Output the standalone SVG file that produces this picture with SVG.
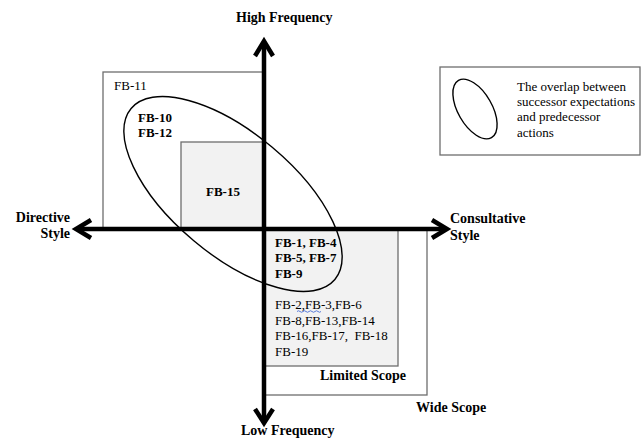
<svg xmlns="http://www.w3.org/2000/svg" width="643" height="439" viewBox="0 0 643 439">
<style>
text{font-family:'Liberation Serif','DejaVu Serif',serif;fill:#000}
.b{font-weight:bold}
.ax{font-weight:bold;font-size:14px}
.lbl{font-size:13px}
.box{fill:none;stroke:#6e6e6e;stroke-width:1.3}
.shade{fill:#f2f2f2;stroke:#6e6e6e;stroke-width:1.3}
.axis{stroke:#000;stroke-width:4.5;fill:none}
.head{stroke:#000;stroke-width:4.5;fill:none;stroke-linejoin:miter;stroke-linecap:butt}
.ell{fill:none;stroke:#000;stroke-width:1.4}
</style>
<rect width="643" height="439" fill="#fff"/>

<g id="wide-scope">
<rect class="box" x="264" y="229" width="163" height="166"/>
<text class="ax" x="416" y="412" font-family="Liberation Serif, serif">Wide Scope</text>
</g>
<g id="limited-scope">
<rect class="shade" x="264" y="229" width="134" height="137"/>
<text class="ax" x="320" y="380" font-family="Liberation Serif, serif">Limited Scope</text>
</g>
<g id="fb-11">
<rect class="box" x="103" y="72" width="161" height="157"/>
<text class="lbl" x="114" y="90">FB-11</text>
</g>
<g id="fb-15">
<rect class="shade" x="181" y="142" width="83" height="87"/>
<text class="lbl b" x="206" y="196">FB-15</text>
</g>
<g id="overlap">
<ellipse class="ell" cx="233" cy="194" rx="133" ry="61" transform="rotate(40 233 194)"/>
<text class="lbl b" x="138" y="122">FB-10</text>
<text class="lbl b" x="138" y="137">FB-12</text>
</g>

<g id="connectors">
<line class="axis" x1="264" y1="42" x2="264" y2="421"/>
<polyline class="head" points="255,56 264,41 273,56"/>
<polyline class="head" points="255,409 264,423 273,409"/>
<line class="axis" x1="77" y1="229" x2="445" y2="229"/>
<polyline class="head" points="91,220 76,229 91,238"/>
<polyline class="head" points="432,220 447,229 432,238"/>
</g>

<g id="quadrant-low-consultative">
<text class="lbl b" x="275" y="247">FB-1, FB-4</text>
<text class="lbl b" x="275" y="262">FB-5, FB-7</text>
<text class="lbl b" x="275" y="278">FB-9</text>
<text class="lbl" x="275" y="309">FB-2,FB-3,FB-6</text>
<path d="M297,311.5 q1.5,-1.5 3,0 t3,0 t3,0 t3,0 t3,0 t3,0 t3,0 t3,0" fill="none" stroke="#4a6fd6" stroke-width="0.9"/>
<text class="lbl" x="275" y="325">FB-8,FB-13,FB-14</text>
<text class="lbl" x="275" y="340" xml:space="preserve">FB-16,FB-17,  FB-18</text>
<text class="lbl" x="275" y="356">FB-19</text>
</g>

<g id="axis-labels">
<text class="ax" x="236" y="22">High Frequency</text>
<text class="ax" x="241" y="435">Low Frequency</text>
<text class="ax" x="70" y="222" text-anchor="end">Directive</text>
<text class="ax" x="70" y="238" text-anchor="end">Style</text>
<text class="ax" x="450" y="223">Consultative</text>
<text class="ax" x="450" y="240">Style</text>
</g>

<g id="legend">
<rect class="box" x="440" y="67" width="200" height="88"/>
<ellipse class="ell" cx="475" cy="109" rx="17" ry="33" transform="rotate(-30 475 109)"/>
<text class="lbl" x="517" y="91">The overlap between</text>
<text class="lbl" x="517" y="106">successor expectations</text>
<text class="lbl" x="517" y="121">and predecessor</text>
<text class="lbl" x="517" y="137">actions</text>
</g>
</svg>
